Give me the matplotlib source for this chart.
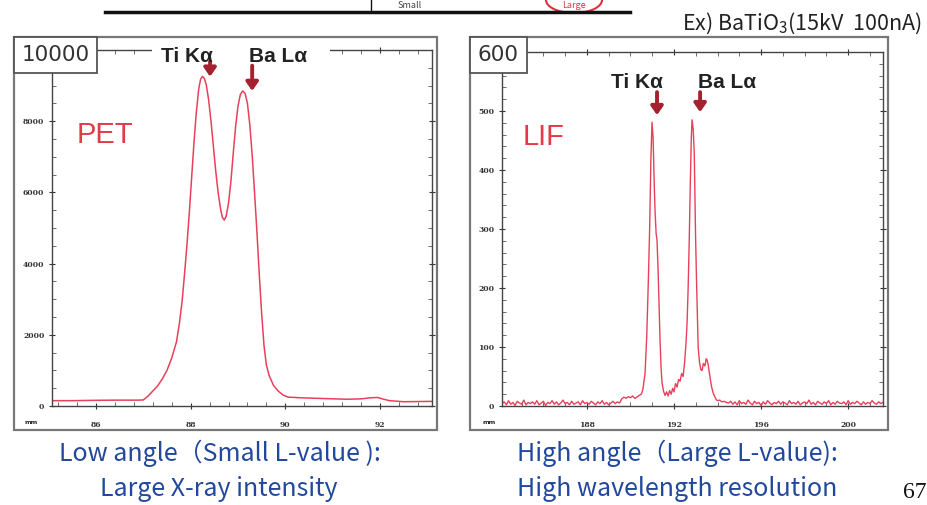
import numpy as np
import matplotlib
matplotlib.use("Agg")
import matplotlib.pyplot as plt
from matplotlib.patches import Rectangle, Ellipse
from matplotlib.ticker import MultipleLocator, FixedLocator

plt.rcParams['font.family'] = ['Noto Sans CJK JP', 'DejaVu Sans']
plt.rcParams['mathtext.fontset'] = 'custom'
plt.rcParams['mathtext.rm'] = 'Noto Sans CJK JP'

# ---------------- data ----------------
pet_angle = [85.07, 85.5, 86.0, 86.5, 86.9, 87.0, 87.1, 87.2, 87.3, 87.4, 87.5, 87.6, 87.7,
             87.76, 87.82, 87.87, 87.92, 87.97, 88.02, 88.07, 88.12, 88.17, 88.21, 88.25,
             88.29, 88.33, 88.38, 88.43, 88.48, 88.53, 88.58, 88.63, 88.67, 88.71, 88.75,
             88.80, 88.85, 88.90, 88.95, 89.00, 89.05, 89.10, 89.15, 89.20, 89.25, 89.30,
             89.35, 89.40, 89.45, 89.50, 89.55, 89.60, 89.66, 89.75, 89.85, 89.95, 90.06,
             90.34, 90.8, 91.3, 91.6, 91.8, 91.95, 92.05, 92.2, 92.5, 93.1]
pet_counts = [150, 150, 160, 165, 165, 170, 280, 420, 560, 760, 1000, 1350, 1800,
              2300, 2950, 3700, 4500, 5400, 6400, 7400, 8250, 8900, 9180, 9260,
              9200, 9020, 8600, 8000, 7300, 6600, 6000, 5550, 5300, 5220, 5330,
              5700, 6300, 7100, 7850, 8420, 8750, 8850, 8780, 8500, 7900, 7050,
              6000, 4900, 3700, 2600, 1700, 1150, 850, 580, 420, 310, 250,
              230, 210, 190, 200, 230, 240, 200, 150, 120, 130]

lif_left_counts = [4, 7, 2, 9, 3, 6, 1, 8, 5, 3, 10, 2, 6, 4, 7, 3, 9, 2, 5, 8, 1, 6, 4, 9, 3,
                   7, 2, 5, 10, 4, 6, 2, 8, 3, 5, 7, 2, 9, 4, 6, 3, 8, 5, 2, 7, 4, 9, 3, 6, 2,
                   5, 8, 4, 7, 5]
lif_left_start, lif_left_end = 184.1, 189.5
lif_peak_angle = [189.6, 189.7, 189.8, 189.9, 190.0, 190.1, 190.2, 190.3, 190.4, 190.5,
                  190.57, 190.67, 190.75, 190.82, 190.88, 190.94, 190.99, 191.04, 191.09,
                  191.13, 191.18, 191.22, 191.27, 191.32, 191.36, 191.41, 191.45, 191.52,
                  191.59, 191.66, 191.73, 191.8, 191.87, 191.94, 192.0, 192.07, 192.14,
                  192.21, 192.28, 192.35, 192.42, 192.49, 192.55, 192.6, 192.65, 192.7,
                  192.75, 192.8, 192.83, 192.88, 192.93, 192.96, 192.99, 193.03, 193.07,
                  193.11, 193.17, 193.23, 193.29, 193.35, 193.42, 193.48, 193.52, 193.57,
                  193.61, 193.67, 193.73, 193.8, 193.87, 193.94, 194.0, 194.1, 194.2,
                  194.3, 194.4]
lif_peak_counts = [12, 15, 13, 16, 14, 17, 13, 15, 18, 20,
                   28, 55, 120, 210, 298, 420, 481, 455, 380,
                   330, 292, 281, 230, 160, 110, 62, 40, 25,
                   18, 24, 17, 26, 20, 30, 24, 38, 32,
                   45, 42, 55, 50, 75, 105, 140, 200, 280,
                   380, 460, 485, 470, 430, 360, 290, 220, 160,
                   100, 75, 62, 60, 72, 68, 80, 78, 70,
                   60, 45, 32, 22, 16, 11, 9, 10, 7,
                   8, 6]
lif_right_counts = [5, 8, 3, 7, 2, 9, 4, 6, 3, 10, 5, 2, 8, 4, 6, 1, 7, 3, 9, 5, 2, 6, 4, 8,
                    3, 7, 5, 2, 9, 4, 6, 3, 8, 2, 5, 7, 4, 10, 3, 6, 2, 8, 5, 3, 7, 4, 9, 2,
                    6, 3, 8, 5, 4, 7, 2, 9, 3, 6, 4, 8, 5, 2, 7, 3, 6, 4, 9, 5, 3, 7, 4, 6]
lif_right_start, lif_right_end = 194.5, 201.6

pet_xticks = [86, 88, 90, 92]
pet_yticks = [0, 2000, 4000, 6000, 8000]
lif_xticks = [188, 192, 196, 200]
lif_yticks = [0, 100, 200, 300, 400, 500]

pet_label_x = [88.41, 89.30]
lif_label_x = [191.22, 193.20]
peak_names = ["Ti K\u03b1", "Ba L\u03b1"]

# ---------------- figure ----------------
W, H = 927, 505
fig = plt.figure(figsize=(W / 100, H / 100), dpi=100)
fig.patch.set_facecolor('white')


def fx(px):
    return px / W


def fy(py):
    return 1 - py / H


CURVE = '#e8405a'
ARROW = '#a3222e'
BLUE = '#22489c'


def style_axes(ax, xmajor, ymajor, xminor, yminor):
    for s in ax.spines.values():
        s.set_color('#444444')
        s.set_linewidth(1.0)
    ax.xaxis.set_major_locator(FixedLocator(xmajor))
    ax.yaxis.set_major_locator(FixedLocator(ymajor))
    ax.xaxis.set_minor_locator(MultipleLocator(xminor))
    ax.yaxis.set_minor_locator(MultipleLocator(yminor))
    ax.tick_params(which='major', direction='inout', length=5, width=0.8,
                   colors='#333333', top=True, right=True, labelsize=5.5, pad=3)
    ax.tick_params(which='minor', direction='in', length=3, width=0.6,
                   colors='#555555', top=True, right=True)
    for lab in ax.get_xticklabels() + ax.get_yticklabels():
        lab.set_fontfamily('DejaVu Serif')
        lab.set_fontweight('bold')


# left panel
axL = fig.add_axes([fx(52), fy(406), fx(432) - fx(52), fy(50) - fy(406)])
axL.plot(pet_angle, pet_counts, color=CURVE, lw=1.1)
axL.set_xlim(85.07, 93.10)
axL.set_ylim(0, 10000)
style_axes(axL, pet_xticks, pet_yticks, 0.4, 500)
axL.tick_params(axis='x', pad=8)
axL.text(0.066, 0.76, "PET", transform=axL.transAxes, color='#e33a48', fontsize=21,
         va='center', ha='left', family=['Liberation Sans'])

# right panel
axR = fig.add_axes([fx(502), fy(406), fx(883) - fx(502), fy(52) - fy(406)])
lif_angle = (list(np.linspace(lif_left_start, lif_left_end, len(lif_left_counts)))
             + lif_peak_angle
             + list(np.linspace(lif_right_start, lif_right_end, len(lif_right_counts))))
lif_counts = lif_left_counts + lif_peak_counts + lif_right_counts
axR.plot(lif_angle, lif_counts, color=CURVE, lw=1.0)
axR.set_xlim(184.1, 201.6)
axR.set_ylim(0, 600)
style_axes(axR, lif_xticks, lif_yticks, 1, 20)
axR.tick_params(axis='x', pad=8)
axR.text(0.055, 0.76, "LIF", transform=axR.transAxes, color='#e33a48', fontsize=21,
         va='center', ha='left', family=['Liberation Sans'])

# white gap in the top frame of the left panel where the labels sit
fig.patches.append(Rectangle((fx(152), fy(60)), fx(330) - fx(152), fy(42) - fy(60),
                             transform=fig.transFigure, facecolor='white',
                             edgecolor='none', zorder=4))

# peak labels + arrows
pet_text_x = [87.92, 89.85]
for name, tx, ax_x, tail, tip in zip(peak_names, pet_text_x, pet_label_x,
                                     [9680, 9560], [9250, 8850]):
    fig.text(*fig.transFigure.inverted().transform(axL.transData.transform((tx, 9830))),
             name, ha='center', va='center', fontsize=15, fontweight='bold',
             family=['Liberation Sans', 'DejaVu Sans'], color='#222222', zorder=6)
    axL.annotate('', xy=(ax_x, tip), xytext=(ax_x, tail),
                 arrowprops=dict(arrowstyle='-|>,head_width=0.35,head_length=0.5',
                                 color=ARROW, lw=2.8, shrinkA=0, shrinkB=0))
lif_text_x = [190.30, 194.44]
for name, tx, ax_x, tip in zip(peak_names, lif_text_x, lif_label_x, [493, 498]):
    axR.text(tx, 549, name, ha='center', va='center', fontsize=15, fontweight='bold',
             family=['Liberation Sans', 'DejaVu Sans'], color='#222222')
    axR.annotate('', xy=(ax_x, tip), xytext=(ax_x, 532),
                 arrowprops=dict(arrowstyle='-|>,head_width=0.35,head_length=0.5',
                                 color=ARROW, lw=2.8, shrinkA=0, shrinkB=0))

# outer panel boxes
for x0, x1 in [(14, 437), (470, 888)]:
    fig.patches.append(Rectangle((fx(x0), fy(430)), fx(x1) - fx(x0), fy(37) - fy(430),
                                 transform=fig.transFigure, fill=False,
                                 edgecolor='#777777', lw=1.6))

# y-max label boxes
for x0, x1, txt in [(14, 97, "10000"), (470, 527, "600")]:
    fig.patches.append(Rectangle((fx(x0), fy(73)), fx(x1) - fx(x0), fy(37) - fy(73),
                                 transform=fig.transFigure, facecolor='white',
                                 edgecolor='#555555', lw=1.3, zorder=5))
    fig.text(fx((x0 + x1) / 2), fy(55), txt, ha='center', va='center', fontsize=15.5,
             family=['DejaVu Sans'], color='#333333', zorder=6)

# unit marks
for px in (31, 489):
    fig.text(fx(px), fy(423), "mm", ha='center', va='center', fontsize=4.5,
             fontweight='bold', color='#222222', family=['DejaVu Sans'])

# header fragments
fig.add_artist(plt.Line2D([fx(105), fx(630)], [fy(12), fy(12)], color='#111111', lw=2.5,
                          transform=fig.transFigure))
fig.add_artist(plt.Line2D([fx(371), fx(371)], [fy(0), fy(12)], color='#111111', lw=1,
                          transform=fig.transFigure))
fig.text(fx(410), fy(1), "Small", ha='center', va='top', fontsize=6.5, color='#444444')
fig.add_artist(Ellipse((fx(574), fy(0)), fx(56), 26 / H, fill=False, edgecolor='#e03040',
                       lw=1.5, transform=fig.transFigure))
fig.text(fx(574), fy(1), "Large", ha='center', va='top', fontsize=6.5, color='#e03040')

fig.text(fx(922), fy(23), "Ex) BaTiO$_3$(15kV  100nA)", ha='right', va='center',
         fontsize=15.5, color='#222222')

# captions
fig.text(fx(220), fy(453), "Low angle\uff08Small L-value ):", ha='center', va='center',
         fontsize=18, color=BLUE)
fig.text(fx(219), fy(489), "Large X-ray intensity", ha='center', va='center',
         fontsize=18, color=BLUE)
fig.text(fx(677), fy(453), "High angle\uff08Large L-value):", ha='center', va='center',
         fontsize=18, color=BLUE)
fig.text(fx(677), fy(489), "High wavelength resolution", ha='center', va='center',
         fontsize=18, color=BLUE)
fig.text(fx(903), fy(492), "67", ha='left', va='center', fontsize=17, color='#111111',
         family=['Liberation Serif'])

fig.savefig("out.png", dpi=100)
